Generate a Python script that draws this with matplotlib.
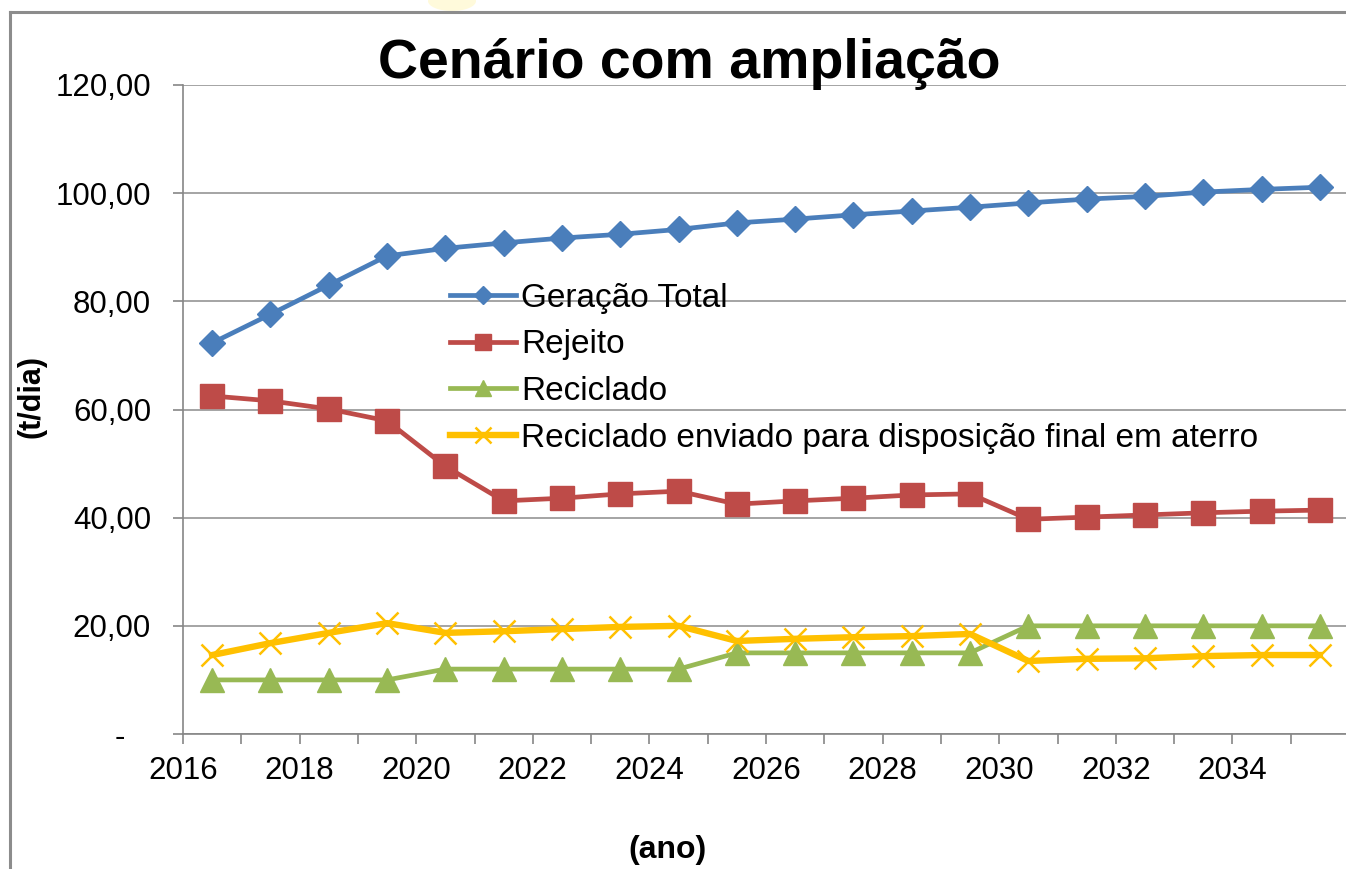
import matplotlib
matplotlib.use("Agg")
import matplotlib.pyplot as plt
from matplotlib.lines import Line2D
from matplotlib.patches import Ellipse
import numpy as np

plt.rcParams['font.family'] = ['Liberation Sans', 'DejaVu Sans']

# DATA (t/dia)
anos = list(range(2016, 2036))
geracao_total = [72.3, 77.6, 83.0, 88.4, 89.8, 90.8, 91.7, 92.4, 93.3, 94.5,
                 95.2, 96.0, 96.7, 97.4, 98.2, 98.9, 99.4, 100.2, 100.7, 101.1]
rejeito = [62.5, 61.6, 60.1, 57.9, 49.5, 43.1, 43.6, 44.4, 44.9, 42.5,
           43.1, 43.6, 44.2, 44.4, 39.7, 40.1, 40.5, 40.9, 41.2, 41.4]
reciclado = [10, 10, 10, 10, 12, 12, 12, 12, 12, 15,
             15, 15, 15, 15, 20, 20, 20, 20, 20, 20]
reciclado_aterro = [14.6, 16.8, 18.7, 20.5, 18.7, 19.0, 19.4, 19.8, 20.0, 17.2,
                    17.6, 17.9, 18.1, 18.5, 13.5, 13.9, 14.0, 14.4, 14.6, 14.6]

labels = ['Geração Total', 'Rejeito', 'Reciclado',
          'Reciclado enviado para disposição final em aterro']

W, H = 1346, 869
fig = plt.figure(figsize=(W / 100, H / 100), dpi=100)
ax = fig.add_axes([183 / W, 1 - 734 / H, (1349 - 183) / W, (734 - 85) / H])

x = np.arange(len(anos)) + 0.5

ax.plot(x, geracao_total, color='#4A7EBB', lw=3.4, marker='D', ms=13,
        label=labels[0], zorder=3)
ax.plot(x, rejeito, color='#BE4B48', lw=3.4, marker='s', ms=17,
        label=labels[1], zorder=3)
ax.plot(x, reciclado, color='#98B954', lw=3.4, marker='^', ms=17,
        label=labels[2], zorder=3)
ax.plot(x, reciclado_aterro, color='#FFC000', lw=4.6, marker='x', ms=16,
        mew=1.8, label=labels[3], zorder=3)

ax.set_xlim(0, len(anos))
ax.set_ylim(0, 120)

# eixo x: marcas entre categorias, rótulos a cada dois anos
ax.set_xticks(np.arange(0, len(anos) + 1))
xt = [str(anos[i]) if (i < len(anos) and i % 2 == 0) else '' for i in range(len(anos) + 1)]
ax.set_xticklabels(xt)

yt = np.arange(0, 121, 20)
ax.set_yticks(yt)
ax.set_yticklabels(['-   '] + ['%d,00' % v for v in yt[1:]])

ax.tick_params(axis='both', labelsize=22.5, colors='#868686', labelcolor='black',
               length=7, width=1.2)
ax.tick_params(axis='y', pad=16)
ax.tick_params(axis='x', pad=9)

ax.grid(axis='y', color='#8C8C8C', lw=1.1)
ax.set_axisbelow(True)
for s in ['top', 'right']:
    ax.spines[s].set_visible(False)
for s in ['left', 'bottom']:
    ax.spines[s].set_color('#868686')
    ax.spines[s].set_linewidth(1.2)

fig.text(689 / W, 1 - 64 / H, 'Cenário com ampliação', fontsize=40,
         fontweight='bold', ha='center', va='center')
fig.text(31 / W, 1 - 396 / H, '(t/dia)', fontsize=22, fontweight='bold',
         rotation=90, ha='center', va='center')
fig.text(668 / W, 1 - 850 / H, '(ano)', fontsize=23, fontweight='bold',
         ha='center', va='center')

ax.legend(loc='upper left', bbox_to_anchor=(433 / W, 1 - 266 / H),
          bbox_transform=fig.transFigure, frameon=False, fontsize=24,
          handlelength=2.0, handletextpad=0.15, labelspacing=0.47,
          borderpad=0, markerscale=0.7)

# moldura externa
fig.add_artist(Line2D([10 / W, 10 / W], [0, 1 - 12 / H], color='#8C8C8C', lw=2.2))
fig.add_artist(Line2D([10 / W, 1], [1 - 12 / H, 1 - 12 / H], color='#8C8C8C', lw=2.2))
fig.add_artist(Ellipse((452 / W, 1 - 1 / H), 48 / W, 20 / H, color='#FFF6B8',
                       alpha=0.5, lw=0))

fig.savefig('out.png', dpi=100, facecolor='white')
